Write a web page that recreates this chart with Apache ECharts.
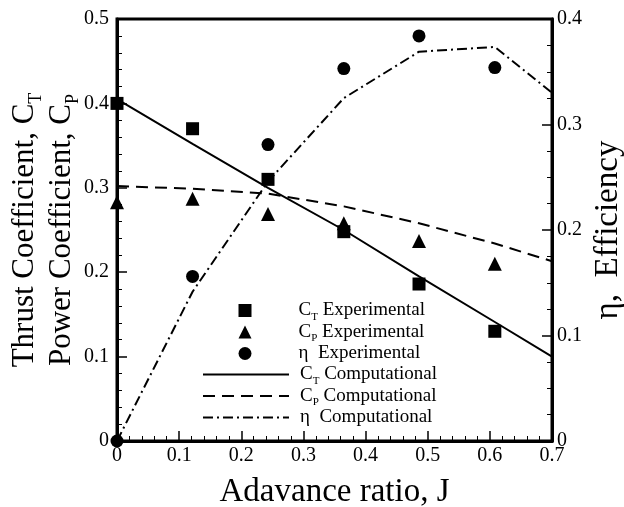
<!DOCTYPE html>
<html>
<head>
<meta charset="utf-8">
<script src="https://cdn.jsdelivr.net/npm/echarts@6/dist/echarts.min.js"></script>
<style>
  html, body { margin: 0; padding: 0; background: #fff; }
  #chart { width: 624px; height: 507px; }
</style>
</head>
<body>
<div id="chart"></div>
<script>
// advance ratio of the measured points
const jExp = [0, 0.1216, 0.243, 0.365, 0.486, 0.608];
const ctExp = [0.400, 0.370, 0.310, 0.248, 0.186, 0.130];
const cpExp = [0.283, 0.287, 0.269, 0.258, 0.237, 0.210];
const etaExp = [0, 0.156, 0.281, 0.353, 0.384, 0.354];

// computed curves
const jComp = [0, 0.1216, 0.243, 0.365, 0.486, 0.608, 0.7];
const ctComp = [0.405, 0.352, 0.300, 0.250, 0.195, 0.141, 0.100];
const cpComp = [0.302, 0.299, 0.293, 0.278, 0.258, 0.234, 0.213];
const etaComp = [0, 0.1415, 0.246, 0.325, 0.369, 0.3735, 0.330];

const xTicks = ['0', '0.1', '0.2', '0.3', '0.4', '0.5', '0.6', '0.7'];

const font = 'Liberation Serif';
const pair = (xs, ys) => xs.map((x, i) => [x, ys[i]]);

const chart = echarts.init(document.getElementById('chart'));

const axisCommon = {
    type: 'value',
    splitLine: { show: false },
    axisLine: { show: true, lineStyle: { color: '#000', width: 3 } },
    axisTick: { show: true, inside: true, length: 10, lineStyle: { color: '#000', width: 1.5 } },
    minorTick: { show: true, length: 5, lineStyle: { color: '#000', width: 1 } },
    axisLabel: { color: '#000', fontFamily: font, fontSize: 20 },
    nameLocation: 'middle',
    nameMoveOverlap: false
};

const legendNames = {
    ctE: '{c|C}{s|T}{c| Experimental}',
    cpE: '{c|C}{s|P}{c| Experimental}',
    etE: '{c|η  Experimental}',
    ctC: '{c|C}{s|T}{c| Computational}',
    cpC: '{c|C}{s|P}{c| Computational}',
    etC: '{c|η  Computational}'
};

const legendRich = {
    c: { fontFamily: font, fontSize: 19, lineHeight: 18, color: '#000' },
    s: { fontFamily: font, fontSize: 11, lineHeight: 18, verticalAlign: 'bottom', color: '#000', padding: [0, 0, -3, 0] }
};

const option = {
    backgroundColor: '#fff',
    animation: false,
    grid: {
        left: 117, right: 72, top: 19, bottom: 66,
        outerBoundsMode: 'none',
        containLabel: false,
        show: true, borderColor: '#000', borderWidth: 3
    },
    legend: [
        {
            // measured points
            orient: 'vertical',
            left: 233.5,
            top: 296,
            itemWidth: 13,
            itemHeight: 13,
            itemGap: 0,
            data: ['ctE', 'cpE', 'etE'],
            formatter: name => legendNames[name],
            textStyle: { color: '#000', padding: [0, 0, 0, 42], rich: legendRich }
        },
        {
            // computed curves
            orient: 'vertical',
            left: 197,
            top: 360,
            itemWidth: 86,
            itemHeight: 13,
            itemGap: 0,
            itemStyle: { opacity: 0 },
            data: ['ctC', 'cpC', 'etC'],
            formatter: name => legendNames[name],
            textStyle: { color: '#000', padding: [0, 0, 0, 6], rich: legendRich }
        }
    ],
    xAxis: Object.assign({}, axisCommon, {
        min: 0, max: 0.7, interval: 0.1,
        minorTick: Object.assign({}, axisCommon.minorTick, { splitNumber: 5 }),
        axisLabel: Object.assign({}, axisCommon.axisLabel, {
            margin: 5,
            formatter: (v) => xTicks[Math.round(v * 10)]
        }),
        name: 'Adavance ratio, J',
        nameGap: 35,
        nameTextStyle: { color: '#000', fontFamily: font, fontSize: 33 }
    }),
    yAxis: [
        Object.assign({}, axisCommon, {
            position: 'left',
            min: 0, max: 0.5, interval: 0.1,
            minorTick: Object.assign({}, axisCommon.minorTick, { splitNumber: 5 }),
            axisLabel: Object.assign({}, axisCommon.axisLabel, {
                margin: 8,
                formatter: v => v === 0 ? '0' : v.toFixed(1)
            }),
            name: '{a|Thrust Coefficient, C}{b|T}\n{a|Power Coefficient, C}{b|P}',
            nameGap: 37,
            nameRotate: 90,
            nameTextStyle: {
                color: '#000',
                rich: {
                    a: { fontFamily: font, fontSize: 31, lineHeight: 37, color: '#000' },
                    b: { fontFamily: font, fontSize: 18, lineHeight: 37, verticalAlign: 'bottom', color: '#000', padding: [0, 0, -2, 0] }
                }
            }
        }),
        Object.assign({}, axisCommon, {
            position: 'right',
            min: 0, max: 0.4, interval: 0.1,
            minorTick: Object.assign({}, axisCommon.minorTick, { splitNumber: 4 }),
            axisLabel: Object.assign({}, axisCommon.axisLabel, {
                margin: 5,
                formatter: v => v === 0 ? '0' : v.toFixed(1)
            }),
            name: 'η,  Efficiency',
            nameGap: 40,
            nameRotate: 90,
            nameTextStyle: { color: '#000', fontFamily: font, fontSize: 33 }
        })
    ],
    series: [
        {
            name: 'ctE', type: 'scatter', symbol: 'rect', symbolSize: 13, z: 5,
            itemStyle: { color: '#000', opacity: 1 }, data: pair(jExp, ctExp)
        },
        {
            name: 'cpE', type: 'scatter', symbol: 'triangle', symbolSize: 14, z: 5,
            itemStyle: { color: '#000', opacity: 1 }, data: pair(jExp, cpExp)
        },
        {
            name: 'etE', type: 'scatter', symbol: 'circle', symbolSize: 13, z: 5, yAxisIndex: 1,
            itemStyle: { color: '#000', opacity: 1 }, data: pair(jExp, etaExp)
        },
        {
            name: 'ctC', type: 'line', showSymbol: false, symbol: 'none',
            lineStyle: { color: '#000', width: 2, type: 'solid' },
            itemStyle: { color: '#000' }, data: pair(jComp, ctComp)
        },
        {
            name: 'cpC', type: 'line', showSymbol: false, symbol: 'none',
            lineStyle: { color: '#000', width: 2, type: [12, 7] },
            itemStyle: { color: '#000' }, data: pair(jComp, cpComp)
        },
        {
            name: 'etC', type: 'line', showSymbol: false, symbol: 'none', yAxisIndex: 1,
            lineStyle: { color: '#000', width: 2, type: [10, 4, 2, 4] },
            itemStyle: { color: '#000' }, data: pair(jComp, etaComp)
        }
    ]
};

chart.setOption(option);
</script>
</body>
</html>
